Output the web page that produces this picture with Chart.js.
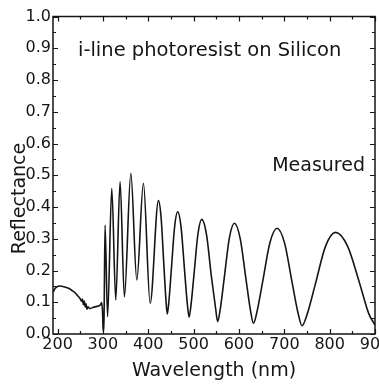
<!DOCTYPE html>
<html><head><meta charset="utf-8">
<script src="https://cdn.jsdelivr.net/npm/chart.js@4"></script>
<style>
html,body{margin:0;padding:0;overflow:hidden;background:#fff;width:379px;height:387px;}
#wrap{position:absolute;left:0;top:0;width:400px;height:387px;}
</style></head><body>
<div id="wrap"><canvas id="c"></canvas></div>
<script>
// Wavelength (nm)
const wavelengths = [
  190.5,194,199,205,214,224,232,238.6,244,249.6,253,255,257,259,261,263,264.5,267,271,279,287,294,297.5,
  299.5,300.5,302.5,304.8,310.3,319.6,328.4,337.9,347.4,361.6,374.8,389.4,404.2,
  422.5,428.4,434.2,439.1,442,445.5,451.2,458.1,465,472.5,480,486.3,490,494.2,501.2,509.6,
  518,528.5,539,548.8,553,558.6,567.8,578.9,590,602.6,615.2,625.7,632,639.8,652.8,668.4,
  684,700.5,717,730.8,739,750.1,768.6,790.8,813,839.7,866,886,900
];
// Reflectance
const reflectance = [
  0.132,0.142,0.149,0.151,0.149,0.144,0.137,0.130,0.121,0.112,0.103,0.110,0.092,0.104,0.085,0.095,0.078,0.086,0.080,0.084,0.087,0.091,0.099,
  0.060,0.010,0.050,0.343,0.055,0.459,0.107,0.480,0.117,0.506,0.170,0.475,0.097,
  0.420,0.366,0.224,0.106,0.063,0.102,0.208,0.337,0.385,0.335,0.202,0.093,0.053,0.090,0.192,0.315,
  0.361,0.313,0.184,0.078,0.039,0.076,0.179,0.303,0.349,0.302,0.176,0.072,0.034,0.070,0.169,0.288,
  0.333,0.287,0.164,0.063,0.026,0.061,0.158,0.276,0.320,0.276,0.160,0.065,0.028
];
const xTicks = [200,300,400,500,600,700,800,900];
const xMinorTicks = [250,350,450,550,650,750,850];
const yTicks = [0,0.1,0.2,0.3,0.4,0.5,0.6,0.7,0.8,0.9,1.0];
const yMinorTicks = [0.05,0.15,0.25,0.35,0.45,0.55,0.65,0.75,0.85,0.95];
const annotationText = 'i-line photoresist on Silicon';
const seriesLabel = 'Measured';
const xTitle = 'Wavelength (nm)';
const yTitle = 'Reflectance';

const FONT = '"DejaVu Sans", sans-serif';
const INK = '#151515';

const framePlugin = {
  id: 'frame',
  afterDatasetsDraw(chart) {
    const {ctx, chartArea: a, scales: {x, y}} = chart;
    ctx.save();
    ctx.strokeStyle = INK;
    ctx.lineWidth = 1.5;
    ctx.strokeRect(a.left, a.top, a.right - a.left, a.bottom - a.top);
    ctx.lineWidth = 1.2;
    ctx.beginPath();
    const xt = (arr, len) => arr.forEach(v => {
      const px = Math.round(x.getPixelForValue(v)) + 0.5;
      ctx.moveTo(px, a.bottom); ctx.lineTo(px, a.bottom - len);
      ctx.moveTo(px, a.top); ctx.lineTo(px, a.top + len);
    });
    const yt = (arr, len) => arr.forEach(v => {
      const py = Math.round(y.getPixelForValue(v)) + 0.5;
      ctx.moveTo(a.left, py); ctx.lineTo(a.left + len, py);
      ctx.moveTo(a.right, py); ctx.lineTo(a.right - len, py);
    });
    xt(xTicks, 5); xt(xMinorTicks, 3);
    yt(yTicks, 5); yt(yMinorTicks, 3);
    ctx.stroke();

    ctx.fillStyle = INK;
    ctx.textBaseline = 'alphabetic';
    ctx.font = '19.5px ' + FONT;
    ctx.textAlign = 'left';
    ctx.fillText(annotationText, 78, 56);
    ctx.font = '19px ' + FONT;
    ctx.textAlign = 'right';
    ctx.fillText(seriesLabel, 365, 170.5);
    ctx.translate(25, 198.5);
    ctx.rotate(-Math.PI / 2);
    ctx.textAlign = 'center';
    ctx.fillText(yTitle, 0, 0);
    ctx.restore();
  }
};

new Chart(document.getElementById('c'), {
  type: 'line',
  data: {
    datasets: [{
      label: seriesLabel,
      data: wavelengths.map((w, i) => ({x: w, y: reflectance[i]})),
      borderColor: INK,
      borderWidth: 1.6,
      pointRadius: 0,
      fill: false,
      cubicInterpolationMode: 'monotone'
    }]
  },
  options: {
    responsive: true,
    maintainAspectRatio: false,
    animation: false,
    devicePixelRatio: 1,
    layout: {padding: {top: 16.5, right: 25, left: 0, bottom: 0}},
    plugins: {legend: {display: false}, tooltip: {enabled: false}},
    scales: {
      x: {
        type: 'linear', min: 190, max: 900,
        afterBuildTicks: s => { s.ticks = xTicks.map(v => ({value: v})); },
        afterFit: s => { s.height = 53; },
        grid: {display: false, drawTicks: false},
        border: {display: false},
        ticks: {padding: 1, color: INK, font: {family: FONT, size: 16}, maxRotation: 0, autoSkip: false,
                callback: v => String(v)},
        title: {display: true, text: xTitle, color: INK, font: {family: FONT, size: 19}, padding: {top: 0, bottom: 5}}
      },
      y: {
        type: 'linear', min: 0, max: 1.0,
        afterBuildTicks: s => { s.ticks = yTicks.map(v => ({value: v})); },
        afterFit: s => { s.width = 53; },
        grid: {display: false, drawTicks: false},
        border: {display: false},
        ticks: {padding: 2, color: INK, font: {family: FONT, size: 16}, autoSkip: false,
                callback: v => Number(v).toFixed(1)}
      }
    }
  },
  plugins: [framePlugin]
});
</script>
</body></html>
